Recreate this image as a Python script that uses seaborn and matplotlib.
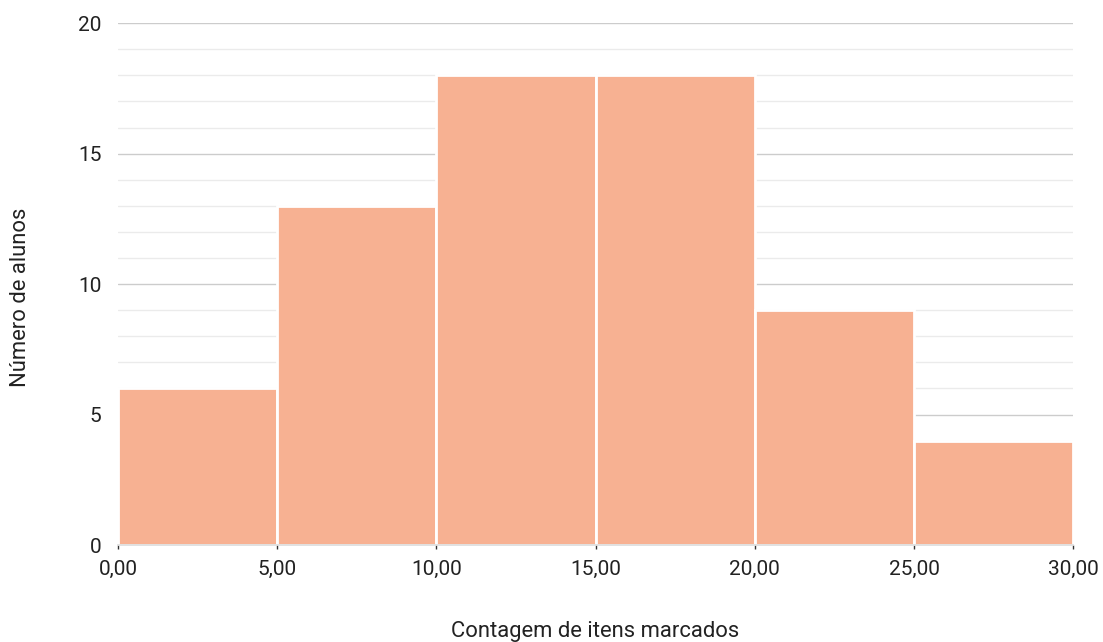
import matplotlib
matplotlib.use("Agg")
import matplotlib.pyplot as plt
import seaborn as sns
import numpy as np
from matplotlib.ticker import MultipleLocator, FuncFormatter

bin_edges = [0, 5, 10, 15, 20, 25, 30]
counts = [6, 13, 18, 18, 9, 4]
x_label = "Contagem de itens marcados"
y_label = "Número de alunos"

sns.set_theme(style="white")
plt.rcParams['font.family'] = ['Roboto', 'DejaVu Sans']

fig = plt.figure(figsize=(11.03, 6.42), dpi=100)
ax = fig.add_axes([0.107, 0.151, 0.866, 0.813])

centers = [(a + b) / 2 for a, b in zip(bin_edges[:-1], bin_edges[1:])]
sns.histplot(x=centers, weights=counts, bins=bin_edges, ax=ax,
             color="#F7B192", alpha=1, edgecolor="white", linewidth=2, zorder=2)

ax.set_xlim(0, 30)
ax.set_ylim(0, 20)
ax.yaxis.set_major_locator(MultipleLocator(5))
ax.yaxis.set_minor_locator(MultipleLocator(1))
ax.xaxis.set_major_locator(MultipleLocator(5))
ax.xaxis.set_major_formatter(FuncFormatter(lambda v, p: f"{v:.2f}".replace(".", ",")))
ax.grid(which="major", axis="y", color="#cccccc", linewidth=1, zorder=0)
ax.grid(which="minor", axis="y", color="#ebebeb", linewidth=1, zorder=0)
ax.set_axisbelow(True)
for s in ["top", "right", "left"]:
    ax.spines[s].set_visible(False)
ax.spines["bottom"].set_color("#dddddd")
ax.tick_params(axis="y", which="both", length=0, labelsize=15, labelcolor="#222222", pad=12)
ax.tick_params(axis="x", which="major", length=3, width=1, color="#333333",
               direction="out", bottom=True, labelsize=15, labelcolor="#222222", pad=8)
ax.tick_params(axis="x", which="minor", length=0)
ax.set_xlabel(x_label, fontsize=15.8, color="#222222", labelpad=30)
ax.set_ylabel(y_label, fontsize=15.8, color="#222222")
ax.yaxis.set_label_coords(-0.091, 0.475)

fig.savefig("out.png", dpi=100)
